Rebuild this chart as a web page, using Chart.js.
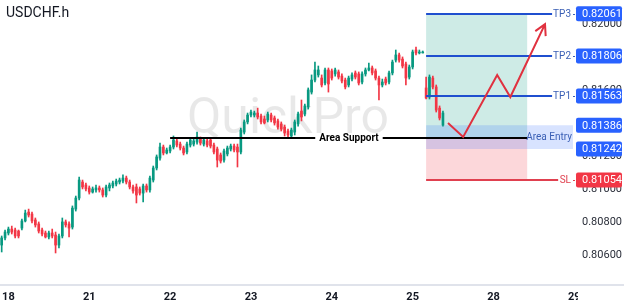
<!DOCTYPE html>
<html>
<head>
<meta charset="utf-8">
<script src="https://cdn.jsdelivr.net/npm/chart.js@4/dist/chart.umd.min.js"></script>
<style>
  html, body { margin: 0; padding: 0; background: #fff; }
  canvas { display: block; }
</style>
</head>
<body>
<canvas id="grafico" width="624" height="307"></canvas>
<script>
// hourly candles USDCHF.h, one per slot starting at slot 0
const opens = [
  0.80660,0.80703,0.80733,0.80757,0.80751,0.80745,0.80763,0.80806,0.80860,0.80848,
  0.80812,0.80788,0.80751,0.80733,0.80709,0.80733,0.80721,0.80660,0.80715,0.80800,
  0.80788,0.80769,0.80878,0.80945,0.81042,0.81024,0.81006,0.80981,0.80994,0.81006,
  0.80994,0.80963,0.81006,0.81018,0.81030,0.81042,0.81048,0.81066,0.81042,0.81012,
  0.81012,0.81000,0.80975,0.81018,0.80994,0.81054,0.81127,0.81187,0.81254,0.81218,
  0.81230,0.81254,0.81291,0.81272,0.81248,0.81224,0.81266,0.81272,0.81284,0.81303,
  0.81272,0.81291,0.81297,0.81266,0.81242,0.81206,0.81175,0.81212,0.81242,0.81260,
  0.81254,0.81224,0.81345,0.81406,0.81448,0.81448,0.81460,0.81442,0.81424,0.81418,
  0.81448,0.81430,0.81412,0.81394,0.81375,0.81351,0.81321,0.81345,0.81394,0.81472,
  0.81454,0.81497,0.81587,0.81660,0.81691,0.81672,0.81642,0.81721,0.81715,0.81697,
  0.81709,0.81684,0.81660,0.81630,0.81666,0.81703,0.81697,0.81648,0.81697,0.81721,
  0.81733,0.81715,0.81672,0.81630,0.81666,0.81648,0.81703,0.81781,0.81812,0.81787,
  0.81757,0.81678,0.81739,0.81842,0.81824,0.81824,0.81612,0.81557,0.81672,0.81618,
  0.81490,0.81387
];
const highs = [
  0.80715,0.80751,0.80769,0.80775,0.80763,0.80751,0.80818,0.80872,0.80878,0.80860,
  0.80824,0.80800,0.80763,0.80745,0.80745,0.80757,0.80739,0.80727,0.80824,0.80812,
  0.80800,0.80897,0.80957,0.81072,0.81054,0.81036,0.81018,0.81012,0.81024,0.81018,
  0.81006,0.81024,0.81036,0.81048,0.81060,0.81066,0.81085,0.81078,0.81054,0.81024,
  0.81030,0.81012,0.81030,0.81030,0.81078,0.81139,0.81206,0.81278,0.81266,0.81248,
  0.81266,0.81321,0.81303,0.81284,0.81260,0.81284,0.81309,0.81303,0.81345,0.81315,
  0.81309,0.81303,0.81309,0.81278,0.81254,0.81218,0.81242,0.81260,0.81272,0.81272,
  0.81272,0.81369,0.81418,0.81460,0.81478,0.81472,0.81490,0.81454,0.81442,0.81466,
  0.81460,0.81442,0.81424,0.81406,0.81387,0.81363,0.81369,0.81418,0.81466,0.81539,
  0.81515,0.81612,0.81691,0.81769,0.81745,0.81691,0.81733,0.81733,0.81727,0.81733,
  0.81721,0.81697,0.81672,0.81684,0.81703,0.81715,0.81709,0.81709,0.81733,0.81763,
  0.81745,0.81727,0.81684,0.81666,0.81678,0.81715,0.81781,0.81842,0.81824,0.81800,
  0.81769,0.81751,0.81842,0.81860,0.81842,0.81836,0.81678,0.81691,0.81684,0.81630,
  0.81503,0.81472
];
const lows = [
  0.80618,0.80691,0.80721,0.80727,0.80703,0.80703,0.80751,0.80800,0.80830,0.80794,
  0.80769,0.80733,0.80715,0.80703,0.80697,0.80703,0.80612,0.80642,0.80703,0.80769,
  0.80709,0.80757,0.80866,0.80933,0.81000,0.80988,0.80969,0.80975,0.80981,0.80981,
  0.80951,0.80951,0.80988,0.81006,0.81018,0.81030,0.81036,0.81030,0.81000,0.80975,
  0.80915,0.80963,0.80921,0.80981,0.80981,0.81042,0.81115,0.81175,0.81206,0.81212,
  0.81218,0.81242,0.81254,0.81236,0.81206,0.81212,0.81254,0.81260,0.81272,0.81266,
  0.81260,0.81254,0.81248,0.81212,0.81133,0.81157,0.81163,0.81200,0.81230,0.81224,
  0.81133,0.81212,0.81333,0.81394,0.81436,0.81436,0.81424,0.81394,0.81394,0.81406,
  0.81406,0.81387,0.81363,0.81351,0.81321,0.81315,0.81309,0.81327,0.81381,0.81412,
  0.81442,0.81484,0.81575,0.81648,0.81678,0.81618,0.81630,0.81587,0.81660,0.81684,
  0.81666,0.81642,0.81606,0.81618,0.81654,0.81666,0.81630,0.81636,0.81684,0.81715,
  0.81691,0.81660,0.81539,0.81618,0.81630,0.81636,0.81691,0.81769,0.81769,0.81733,
  0.81630,0.81666,0.81727,0.81812,0.81818,0.81824,0.81545,0.81545,0.81606,0.81466,
  0.81418,0.81381
];
const closes = [
  0.80703,0.80739,0.80757,0.80739,0.80715,0.80715,0.80806,0.80854,0.80842,0.80806,
  0.80782,0.80745,0.80727,0.80709,0.80733,0.80715,0.80660,0.80715,0.80800,0.80782,
  0.80763,0.80884,0.80945,0.81054,0.81012,0.81000,0.80981,0.81000,0.81006,0.80994,
  0.80963,0.81012,0.81024,0.81036,0.81048,0.81054,0.81066,0.81042,0.81012,0.80988,
  0.80963,0.80975,0.81018,0.80994,0.81066,0.81127,0.81194,0.81254,0.81218,0.81236,
  0.81254,0.81297,0.81266,0.81248,0.81218,0.81272,0.81297,0.81291,0.81315,0.81278,
  0.81297,0.81266,0.81260,0.81224,0.81175,0.81169,0.81230,0.81248,0.81260,0.81236,
  0.81224,0.81357,0.81406,0.81448,0.81466,0.81460,0.81436,0.81406,0.81400,0.81454,
  0.81418,0.81400,0.81375,0.81363,0.81339,0.81327,0.81357,0.81406,0.81454,0.81436,
  0.81503,0.81600,0.81660,0.81721,0.81721,0.81630,0.81721,0.81636,0.81672,0.81721,
  0.81678,0.81654,0.81618,0.81672,0.81691,0.81678,0.81642,0.81697,0.81721,0.81733,
  0.81703,0.81672,0.81630,0.81648,0.81642,0.81703,0.81769,0.81812,0.81781,0.81745,
  0.81672,0.81739,0.81830,0.81824,0.81830,0.81830,0.81551,0.81678,0.81618,0.81478,
  0.81430,0.81460
];

// eixo x: 171 slots horarios, rotulo no inicio de cada dia
const totalSlots = 171;
const diasRotulo = ['18', '21', '22', '23', '24', '25', '28', '29'];
const diasSlot = [2, 26, 50, 74, 98, 122, 146, 170];

// niveis do trade
const niveisNome = ['TP3', 'TP2', 'TP1', 'SL'];
const niveisPreco = [0.82061, 0.81806, 0.81563, 0.81054];
const niveisFim = [163.4, 163.4, 163.4, 165.2];
const precoEntrada = 0.81309;
const faixaEntrada = [0.81242, 0.81386];
const zonaInicio = 126;
const zonaFim = 156;
const faixaFim = 169.6;
const suporteInicio = 50;
const suporteTexto = 103.1;
const caixasPreco = [0.82061, 0.81806, 0.81563, 0.81386, 0.81242, 0.81054];
const caixasCor = ['#2962ff', '#2962ff', '#2962ff', '#2962ff', '#2962ff', '#f23645'];

// seta projetada
const setaSlot = [132.5, 137, 147.1, 151, 161.3];
const setaPreco = [0.81400, 0.81315, 0.81691, 0.81557, 0.81999];

const verde = '#089981';
const vermelho = '#f23645';

const labels = Array(totalSlots).fill('');
diasSlot.forEach((s, i) => labels[s] = diasRotulo[i]);

const cores = opens.map((o, i) => closes[i] >= o ? verde : vermelho);

const desenhos = {
  id: 'desenhos',
  beforeDatasetsDraw(chart) {
    const { ctx, scales: { x, y } } = chart;
    ctx.save();
    // marca d'agua
    ctx.font = '50px Roboto';
    ctx.fillStyle = 'rgba(0,0,0,0.09)';
    ctx.textAlign = 'center';
    ctx.textBaseline = 'alphabetic';
    ctx.fillText('QuickPro', 288, 133);

    const x0 = x.getPixelForValue(zonaInicio);
    const x1 = x.getPixelForValue(zonaFim);
    const yTop = y.getPixelForValue(niveisPreco[0]);
    const yEnt = y.getPixelForValue(precoEntrada);
    const ySl = y.getPixelForValue(niveisPreco[3]);
    ctx.fillStyle = 'rgba(8,153,129,0.2)';
    ctx.fillRect(x0, yTop, x1 - x0, yEnt - yTop);
    ctx.fillStyle = 'rgba(242,54,69,0.2)';
    ctx.fillRect(x0, yEnt, x1 - x0, ySl - yEnt);

    const fx1 = x.getPixelForValue(faixaFim);
    const fyA = y.getPixelForValue(faixaEntrada[1]);
    const fyB = y.getPixelForValue(faixaEntrada[0]);
    ctx.fillStyle = 'rgba(41,98,255,0.18)';
    ctx.fillRect(x0, fyA, fx1 - x0, fyB - fyA);
    ctx.restore();
  },
  afterDatasetsDraw(chart) {
    const { ctx, scales: { x, y } } = chart;
    ctx.save();
    const x0 = x.getPixelForValue(zonaInicio);

    // Area Support
    const ys = Math.round(y.getPixelForValue(precoEntrada));
    const sx0 = x.getPixelForValue(suporteInicio);
    const sx1 = x.getPixelForValue(zonaFim);
    const tx = x.getPixelForValue(suporteTexto);
    ctx.font = 'bold 10px Roboto';
    const tw = ctx.measureText('Area Support').width;
    ctx.fillStyle = '#000';
    ctx.fillRect(sx0, ys - 1, (tx - tw / 2 - 4) - sx0, 2);
    ctx.fillRect(tx + tw / 2 + 4, ys - 1, sx1 - (tx + tw / 2 + 4), 2);
    ctx.textAlign = 'center';
    ctx.textBaseline = 'middle';
    ctx.fillText('Area Support', tx, ys);

    // Area Entry
    const fyA = y.getPixelForValue(faixaEntrada[1]);
    const fyB = y.getPixelForValue(faixaEntrada[0]);
    ctx.font = '10px Roboto';
    ctx.fillStyle = '#3a5fb5';
    ctx.textAlign = 'right';
    ctx.fillText('Area Entry', x.getPixelForValue(faixaFim) - 1, (fyA + fyB) / 2);

    // TP / SL
    niveisNome.forEach((nome, i) => {
      const yy = Math.round(y.getPixelForValue(niveisPreco[i]));
      const xe = x.getPixelForValue(niveisFim[i]);
      const cor = nome === 'SL' ? '#e0404f' : '#1f4fcf';
      ctx.fillStyle = cor;
      ctx.fillRect(x0, yy - 1, xe - x0, 2);
      ctx.fillStyle = nome === 'SL' ? '#e0404f' : '#3a5fb5';
      ctx.textAlign = 'right';
      ctx.fillText(nome, 571, yy);
      ctx.fillRect(573, yy, 2, 1);
    });

    // seta
    const pts = setaSlot.map((s, i) => [x.getPixelForValue(s), y.getPixelForValue(setaPreco[i])]);
    ctx.strokeStyle = '#e0313f';
    ctx.lineWidth = 2;
    ctx.lineJoin = 'miter';
    ctx.beginPath();
    pts.forEach((p, i) => i ? ctx.lineTo(p[0], p[1]) : ctx.moveTo(p[0], p[1]));
    const a = pts[pts.length - 2], b = pts[pts.length - 1];
    const ang = Math.atan2(b[1] - a[1], b[0] - a[0]);
    const L = 12;
    ctx.moveTo(b[0] - L * Math.cos(ang - 0.5), b[1] - L * Math.sin(ang - 0.5));
    ctx.lineTo(b[0], b[1]);
    ctx.lineTo(b[0] - L * Math.cos(ang + 0.5), b[1] - L * Math.sin(ang + 0.5));
    ctx.stroke();
    ctx.restore();
  },
  afterDraw(chart) {
    const { ctx, chartArea: area, scales: { y } } = chart;
    ctx.save();
    // linha do eixo x
    ctx.fillStyle = '#e0e3eb';
    ctx.fillRect(0, area.bottom, chart.width, 2);
    // corta o "29" como no original
    ctx.fillStyle = '#fff';
    ctx.fillRect(area.right + 2, area.bottom + 2, chart.width, chart.height);

    // caixas de preco
    ctx.font = '11px Roboto';
    ctx.textAlign = 'left';
    ctx.textBaseline = 'middle';
    caixasPreco.forEach((p, i) => {
      const yy = y.getPixelForValue(p);
      ctx.fillStyle = caixasCor[i];
      ctx.beginPath();
      ctx.roundRect(area.right, yy - 7.5, 46, 15, 2);
      ctx.fill();
      ctx.fillStyle = '#fff';
      ctx.fillText(p.toFixed(5), area.right + 6, yy + 0.5);
    });

    // titulo
    ctx.font = '14px Roboto';
    ctx.fillStyle = '#131722';
    ctx.textBaseline = 'alphabetic';
    ctx.fillText('USDCHF.h', 6, 17);
    ctx.restore();
  }
};

new Chart(document.getElementById('grafico'), {
  type: 'bar',
  data: {
    labels,
    datasets: [
      {
        data: lows.map((l, i) => [l, highs[i]]),
        backgroundColor: cores,
        barThickness: 1,
        grouped: false,
        order: 2
      },
      {
        data: opens.map((o, i) => [o, closes[i]]),
        backgroundColor: cores,
        barThickness: 2,
        minBarLength: 1,
        grouped: false,
        order: 1
      }
    ]
  },
  options: {
    responsive: false,
    animation: false,
    devicePixelRatio: 1,
    layout: { padding: 0 },
    plugins: { legend: { display: false }, tooltip: { enabled: false } },
    scales: {
      x: {
        grid: { display: false, drawTicks: false },
        border: { display: false },
        ticks: {
          autoSkip: false,
          maxRotation: 0,
          padding: 7,
          color: '#131722',
          font: { family: 'Roboto', size: 11, weight: 'bold' }
        },
        afterFit: s => { s.height = 23; s.paddingLeft = 0; s.paddingRight = 0; }
      },
      y: {
        position: 'right',
        min: 0.80424,
        max: 0.82145,
        grid: { display: false, drawTicks: false },
        border: { display: false },
        ticks: {
          stepSize: 0.002,
          includeBounds: false,
          padding: 6,
          color: '#2a2e39',
          font: { family: 'Roboto', size: 11 },
          callback: v => v.toFixed(5)
        },
        afterFit: s => { s.width = 48; s.paddingTop = 0; s.paddingBottom = 0; }
      }
    }
  },
  plugins: [desenhos]
});
</script>
</body>
</html>
